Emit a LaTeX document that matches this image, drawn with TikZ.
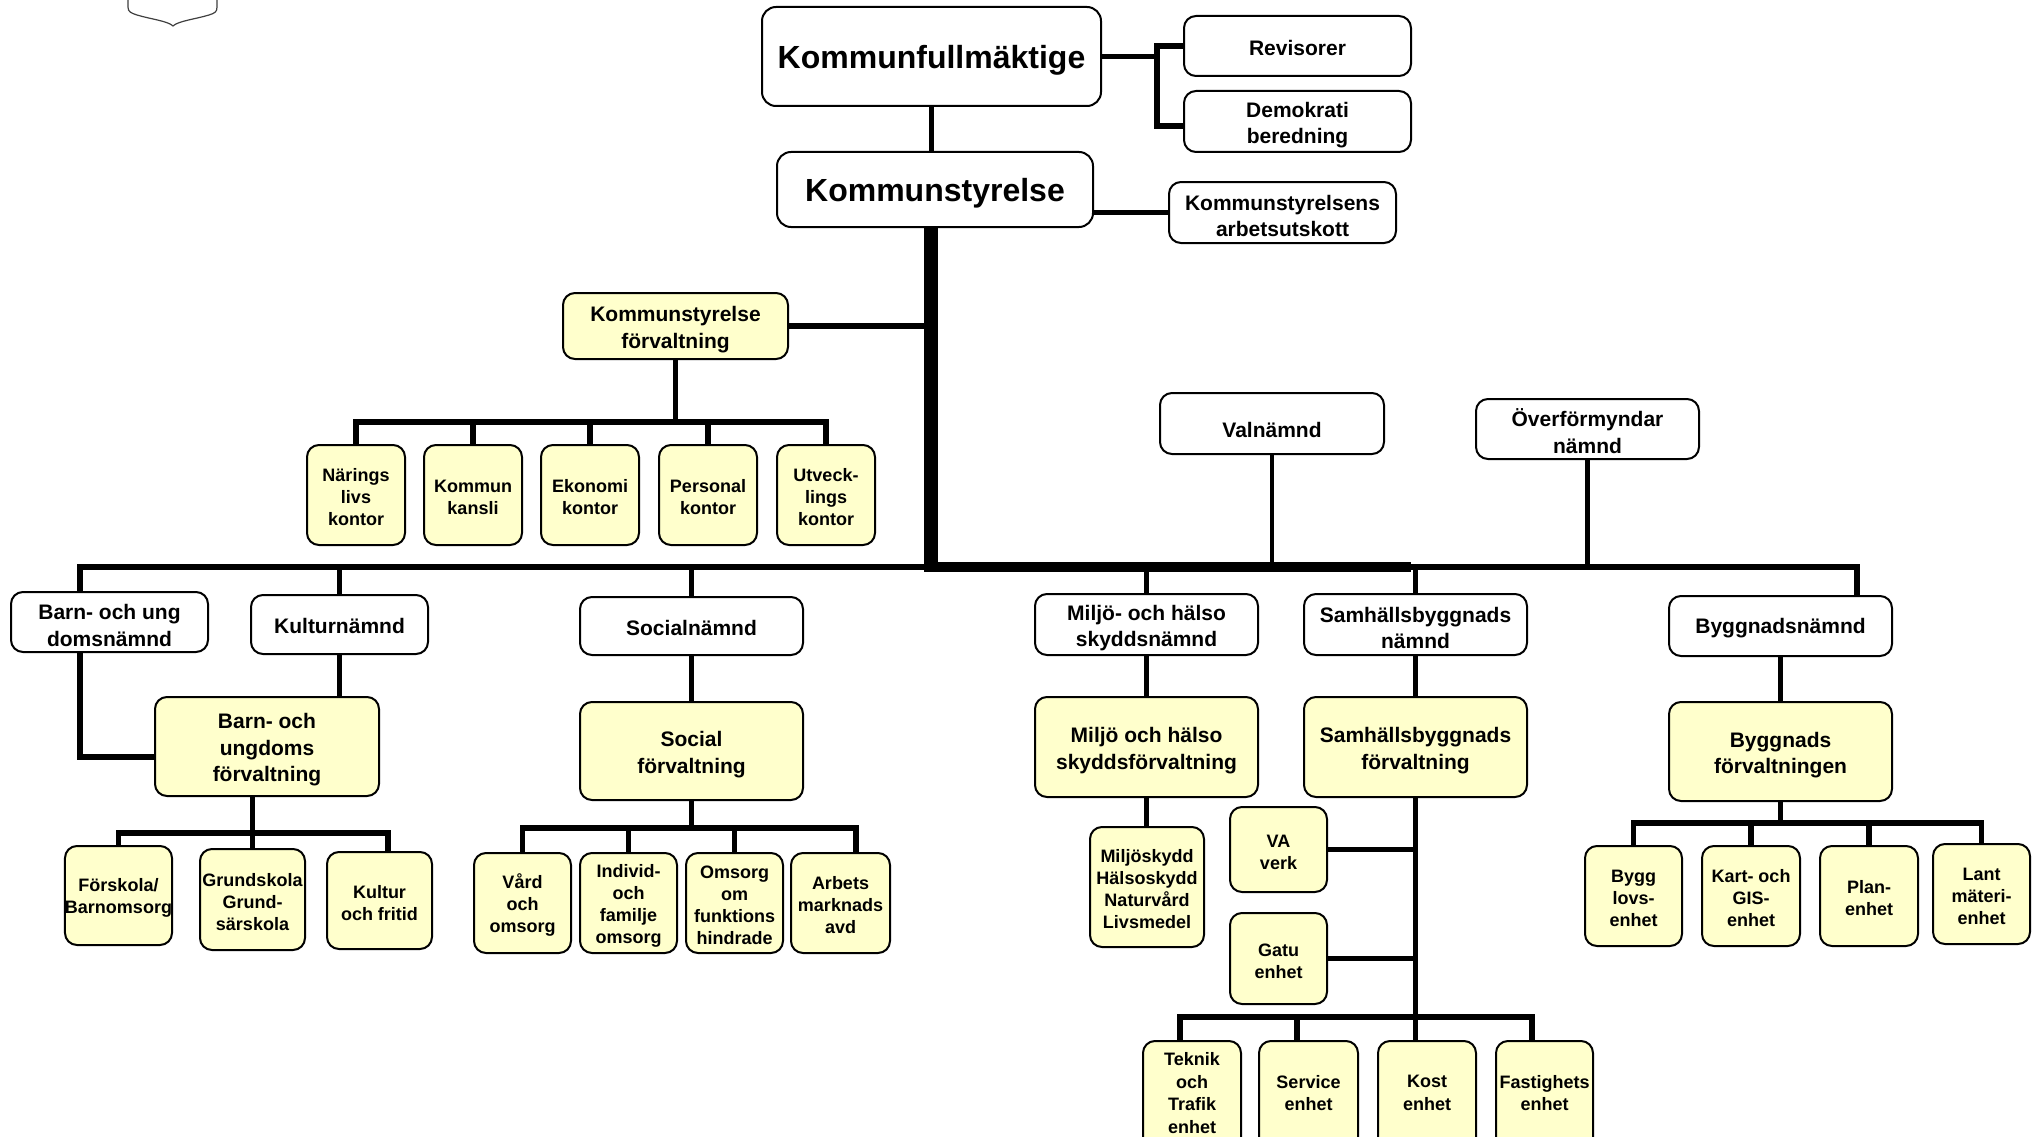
\documentclass[tikz,border=0pt]{standalone}
\usepackage{fontspec}
\setmainfont{Liberation Sans}
\usetikzlibrary{calc}
\definecolor{yfill}{RGB}{255,255,204}
\newcommand\upm{\rule{0pt}{22pt}}
\newcommand\ups{\rule{0pt}{18pt}}
\tikzset{
  box/.style={draw=black, line width=2pt, rounded corners=12pt, align=center, inner sep=0pt,
    font=\bfseries\fontsize{21}{26.5}\selectfont, execute at begin node={\rule{0pt}{19pt}}},
  wbox/.style={box, fill=white},
  ybox/.style={box, fill=yfill},
  big/.style={font=\bfseries\fontsize{32}{38}\selectfont, rounded corners=14pt,
    execute at begin node={\rule{0pt}{31.5pt}}},
  small/.style={font=\bfseries\fontsize{18}{22}\selectfont},
  txt/.style={align=center, inner sep=0pt, font=\bfseries\fontsize{18}{22.5}\selectfont},
  conn/.style={draw=black, line width=5.5pt, line join=miter},
  bus/.style={draw=black, line width=6pt, line join=miter},
  thickbus/.style={draw=black, line width=10pt},
  trunk/.style={draw=black, line width=14pt},
  thinconn/.style={draw=black, line width=4.5pt},
}
\begin{document}
\begin{tikzpicture}[x=1pt,y=-1pt]
\fill[white] (0,0) rectangle (2043,1137);
\useasboundingbox (0,0) rectangle (2043,1137);

% shield outline at top left
\draw[line width=1.2pt, black!75] (128,0) -- (128,7) .. controls (128,12) and (131,13) .. (137,15)
  .. controls (150,19) and (168,21) .. (173,26) .. controls (178,21) and (196,19) .. (209,15)
  .. controls (215,13) and (217,12) .. (217,7) -- (217,0);

% ---------- top ----------
\node[wbox, big, minimum width=339, minimum height=99] (kf) at (931.5,56.5) {Kommunfullmäktige};
\node[wbox, minimum width=227, minimum height=60] (rev) at (1297.5,46) {Revisorer};
\node[wbox, minimum width=227, minimum height=61] (dem) at (1297.5,121.5) {\upm Demokrati\\beredning};
\node[wbox, big, minimum width=316, minimum height=75] (ks) at (935,189.5) {Kommunstyrelse};
\node[wbox, minimum width=227, minimum height=61] (ksau) at (1282.5,212.5) {\upm Kommunstyrelsens\\arbetsutskott};

% ---------- KS förvaltning ----------
\node[ybox, minimum width=225, minimum height=66] (ksf) at (675.5,326) {\upm Kommunstyrelse\\förvaltning};
\node[ybox, small, minimum width=98, minimum height=100] (nar) at (356,495) {\ups Närings\\livs\\kontor};
\node[ybox, small, minimum width=98, minimum height=100] (kka) at (473,495) {\ups Kommun\\kansli};
\node[ybox, small, minimum width=98, minimum height=100] (eko) at (590,495) {\ups Ekonomi\\kontor};
\node[ybox, small, minimum width=98, minimum height=100] (per) at (708,495) {\ups Personal\\kontor};
\node[ybox, small, minimum width=98, minimum height=100] (utv) at (826,495) {\ups Utveck-\\lings\\kontor};

% ---------- Val / Överförmyndar ----------
\node[wbox, minimum width=224, minimum height=61, execute at begin node={\rule{0pt}{28pt}}] (val) at (1272,423.5) {Valnämnd};
\node[wbox, minimum width=223, minimum height=60] (ovf) at (1587.5,429) {\upm Överförmyndar\\nämnd};

% ---------- nämnder ----------
\node[wbox, minimum width=197, minimum height=60] (bun) at (109.5,622) {\upm Barn- och ung\\domsnämnd};
\node[wbox, minimum width=177, minimum height=59] (kun) at (339.5,624.5) {Kulturnämnd};
\node[wbox, minimum width=223, minimum height=58] (son) at (691.5,626) {Socialnämnd};
\node[wbox, minimum width=223, minimum height=61] (mhn) at (1146.5,624.5) {\upm Miljö- och hälso\\skyddsnämnd};
\node[wbox, minimum width=223, minimum height=61] (sbn) at (1415.5,624.5) {\upm Samhällsbyggnads\\nämnd};
\node[wbox, minimum width=223, minimum height=60] (byn) at (1780.5,626) {Byggnadsnämnd};

% ---------- förvaltningar ----------
\node[ybox, minimum width=224, minimum height=99] (buf) at (267,746.5) {\upm Barn- och\\ungdoms\\förvaltning};
\node[ybox, minimum width=223, minimum height=98] (sof) at (691.5,751) {\upm Social\\förvaltning};
\node[ybox, minimum width=223, minimum height=100] (mhf) at (1146.5,747) {\upm Miljö och hälso\\skyddsförvaltning};
\node[ybox, minimum width=223, minimum height=100] (sbf) at (1415.5,747) {\upm Samhällsbyggnads\\förvaltning};
\node[ybox, minimum width=223, minimum height=99] (byf) at (1780.5,751.5) {\upm Byggnads\\förvaltningen};

% ---------- units ----------
\node[ybox, small, minimum width=105, minimum height=99] (fsk) at (118.5,895.5) {\ups Förskola/\\Barnomsorg};
\node[ybox, small, minimum width=105, minimum height=101] (grs) at (252.5,899.5) {\ups Grundskola\\Grund-\\särskola};
\node[ybox, small, minimum width=105, minimum height=97] (kof) at (379.5,900.5) {\ups Kultur\\och fritid};

\node[ybox, small, minimum width=97, minimum height=100] (vao) at (522.5,903) {\ups Vård\\och\\omsorg};
\node[ybox, small, minimum width=97, minimum height=100] (ifo) at (628.5,903) {\ups Individ-\\och\\familje\\omsorg};
\node[ybox, small, minimum width=97, minimum height=100] (oof) at (734.5,903) {\ups Omsorg\\om\\funktions\\hindrade};
\node[ybox, small, minimum width=99, minimum height=100] (arb) at (840.5,903) {\ups Arbets\\marknads\\avd};

\node[ybox, small, minimum width=114, minimum height=120] (mil) at (1147,887) {\ups Miljöskydd\\Hälsoskydd\\Naturvård\\Livsmedel};
\node[ybox, small, minimum width=97, minimum height=85] (va) at (1278.5,849.5) {\ups VA\\verk};
\node[ybox, small, minimum width=97, minimum height=91] (gat) at (1278.5,958.5) {\ups Gatu\\enhet};

\node[ybox, minimum width=98, minimum height=118] (tek) at (1192,1100) {};
\node[ybox, minimum width=99, minimum height=118] (ser) at (1308.5,1100) {};
\node[ybox, minimum width=98, minimum height=118] (kos) at (1427,1100) {};
\node[ybox, minimum width=97, minimum height=118] (fas) at (1544.5,1100) {};
\node[txt] (tekT) at (1192,1093) {Teknik\\och\\Trafik\\enhet};
\node[txt] (serT) at (1308.5,1093) {Service\\enhet};
\node[txt] (kosT) at (1427,1093) {Kost\\enhet};
\node[txt] (fasT) at (1544.5,1093) {Fastighets\\enhet};

\node[ybox, small, minimum width=97, minimum height=100] (byl) at (1633.5,896) {\ups Bygg\\lovs-\\enhet};
\node[ybox, small, minimum width=98, minimum height=100] (kgi) at (1751,896) {\ups Kart- och\\GIS-\\enhet};
\node[ybox, small, minimum width=98, minimum height=100] (pla) at (1869,896) {\ups Plan-\\enhet};
\node[ybox, small, minimum width=97, minimum height=100] (lan) at (1981.5,894) {\ups Lant\\mäteri-\\enhet};

% ---------- connectors ----------
\draw[conn] (kf.south) -- (kf.south |- ks.north);
\coordinate (brk) at (1157,56.5);
\draw[conn] (kf.east) -- (brk);
\coordinate (demin) at ([yshift=-4.5pt]dem.west);
\draw[conn] (rev.west) -| (brk) |- (demin);
\draw[conn] (ksau.west) -- (ksau.west -| ks.east);

\coordinate (tr) at (931,567);
\coordinate (trb) at (931,572);
\draw[trunk] (tr |- ks.south) -- (trb);
\draw[conn] (ksf.east) -- (ksf.east -| tr);

\coordinate (kb) at (675.5,422);
\draw[conn] (ksf.south) -- (kb);
\draw[conn] (nar.north) -- (nar.north |- kb) -- (utv.north |- kb) -- (utv.north);
\foreach \n in {kka,eko,per} \draw[conn] (\n.north) -- (\n.north |- kb);

% main bus
\coordinate (bL) at (80,567);
\coordinate (bM) at (1411,567);
\coordinate (bR) at (1857,567);
\draw[bus] (bL |- bun.north) -- (bL) -- (tr);
\draw[thickbus] (tr) -- (bM);
\draw[bus] (bM) -- (bR) -- (bR |- byn.north);
\foreach \n in {kun,son,mhn,sbn} \draw[conn] (\n.north) -- (\n.north |- bL);
\draw[thinconn] (val.south) -- (val.south |- bL);
\draw[thinconn] (ovf.south) -- (ovf.south |- bL);

% Barn- och ungdom
\coordinate (bb) at (80,757);
\draw[conn] (bb |- bun.south) -- (bb) -- (bb -| buf.west);
\draw[conn] (kun.south) -- (kun.south |- buf.north);
\coordinate (ub) at (252.5,833);
\coordinate (kofD) at ([xshift=8.5pt]kof.north);
\draw[conn] (grs.north |- buf.south) -- (grs.north);
\draw[conn] (fsk.north) -- (fsk.north |- ub) -- (kofD |- ub) -- (kofD);

% Social
\draw[conn] (son.south) -- (sof.north);
\coordinate (sb) at (691.5,828);
\coordinate (arbD) at ([xshift=15.5pt]arb.north);
\draw[conn] (sof.south) -- (sb);
\draw[conn] (vao.north) -- (vao.north |- sb) -- (arbD |- sb) -- (arbD);
\foreach \n in {ifo,oof} \draw[conn] (\n.north) -- (\n.north |- sb);

% Miljö
\draw[conn] (mhn.south) -- (mhf.north);
\draw[conn] (mhf.south) -- (mhf.south |- mil.north);

% Samhällsbyggnad
\draw[conn] (sbn.south) -- (sbf.north);
\coordinate (sb2) at (1415.5,1017);
\draw[conn] (sbf.south) -- (sb2);
\draw[conn] (va.east) -- (va.east -| sb2);
\draw[conn] (gat.east) -- (gat.east -| sb2);
\coordinate (tekD) at ([xshift=-12pt]tek.north);
\coordinate (serD) at ([xshift=-11.5pt]ser.north);
\coordinate (fasD) at ([xshift=-12.5pt]fas.north);
\draw[conn] (tekD) -- (tekD |- sb2) -- (fasD |- sb2) -- (fasD);
\draw[conn] (serD) -- (serD |- sb2);
\draw[conn] (sb2) -- (sb2 |- kos.north);

% Byggnad
\draw[conn] (byn.south) -- (byf.north);
\coordinate (yb) at (1780.5,823);
\draw[conn] (byf.south) -- (yb);
\draw[conn] (byl.north) -- (byl.north |- yb) -- (lan.north |- yb) -- (lan.north);
\foreach \n in {kgi,pla} \draw[conn] (\n.north) -- (\n.north |- yb);
\end{tikzpicture}
\end{document}
